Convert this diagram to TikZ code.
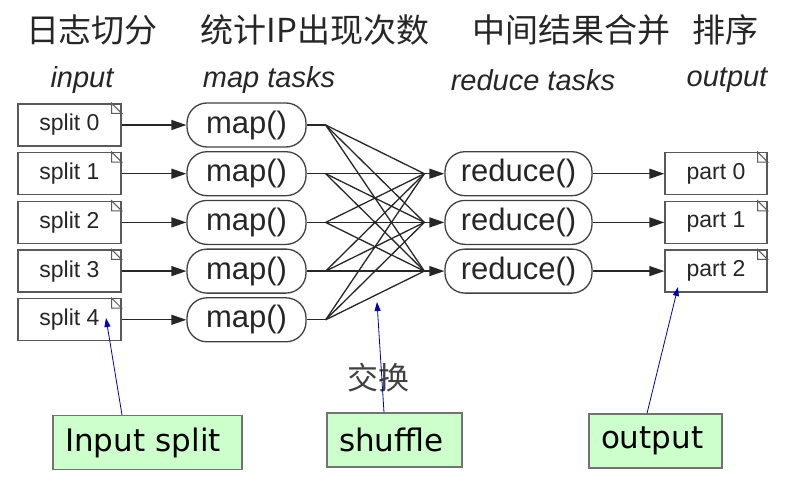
\documentclass[tikz,border=0pt]{standalone}
\usepackage{fontspec}
\setmainfont{Liberation Sans}
\newfontfamily\cjk{Noto Sans CJK SC}
\newfontfamily\verd{DejaVu Sans}
\usetikzlibrary{arrows.meta}

\tikzset{
  filebox/.style={draw=black!65, line width=1.3pt, minimum width=103pt, minimum height=42pt, inner sep=0pt, text=black!85, font=\fontsize{23}{23}\selectfont},
  taskbox/.style={draw=black!75, line width=1.3pt, rounded corners=20pt, minimum height=44pt, inner sep=0pt, text=black!85, font=\fontsize{31}{31}\selectfont},
  notebox/.style={draw=black!55, line width=1.2pt, fill=green!20, minimum height=54pt, inner xsep=12pt, align=left, font=\verd\fontsize{31}{31}\selectfont},
  flow/.style={draw=black!85, line width=1.3pt},
  flowarrow/.style={flow, -{Triangle[length=15pt,width=10pt]}},
  pointer/.style={draw=blue!70!black, line width=0.8pt, -{Triangle[length=9pt,width=6pt]}},
  heading/.style={text=black!85, font=\cjk\fontsize{33}{33}\selectfont},
  column/.style={text=black!85, font=\itshape\fontsize{29}{29}\selectfont},
}

%% folded corner of a file box
\newcommand{\dogear}[1]{%
  \draw[draw=black!65, line width=1pt] ([xshift=-10pt]#1.north east) -- ++(0,-10pt) -- ([yshift=-10pt]#1.north east) -- cycle;}

\begin{document}
\begin{tikzpicture}[x=1pt,y=-1pt]
\useasboundingbox (0,0) rectangle (796,482);

%% headings
\node[heading] (h0) at (92,30) {日志切分};
\node[heading] (h1) at (315,30) {统计IP出现次数};
\node[heading] (h2) at (571,30) {中间结果合并};
\node[heading] (h3) at (725,30) {排序};

%% column titles
\node[column] (c0) at (82,80) {input};
\node[column] (c1) at (269,80) {map tasks};
\node[column] (c2) at (533,80) {reduce tasks};
\node[column] (c3) at (727,80) {output};

%% input splits
\node[filebox] (split0) at (69.5,125) {split 0};
\node[filebox] (split1) at (69.5,173.7) {split 1};
\node[filebox] (split2) at (69.5,222.4) {split 2};
\node[filebox] (split3) at (69.5,271.1) {split 3};
\node[filebox] (split4) at (69.5,319.8) {split 4};

%% map tasks
\node[taskbox, minimum width=119pt] (map0) at (246.5,125) {map()};
\node[taskbox, minimum width=119pt] (map1) at (246.5,173.7) {map()};
\node[taskbox, minimum width=119pt] (map2) at (246.5,222.4) {map()};
\node[taskbox, minimum width=119pt] (map3) at (246.5,271.1) {map()};
\node[taskbox, minimum width=119pt] (map4) at (246.5,319.8) {map()};

%% reduce tasks
\node[taskbox, minimum width=147pt] (red0) at (518.5,173.7) {reduce()};
\node[taskbox, minimum width=147pt] (red1) at (518.5,222.4) {reduce()};
\node[taskbox, minimum width=147pt] (red2) at (518.5,271.1) {reduce()};

%% output parts
\node[filebox, minimum width=102pt] (part0) at (716,173.7) {part 0};
\node[filebox, minimum width=102pt] (part1) at (716,222.4) {part 1};
\node[filebox, minimum width=102pt] (part2) at (716,271.1) {part 2};

\foreach \n in {split0,split1,split2,split3,split4,part0,part1,part2}
  \dogear{\n};

%% split -> map
\foreach \i in {0,...,4}
  \draw[flowarrow] (split\i) -- (map\i);

%% shuffle
\foreach \i in {0,...,4}{
  \path (map\i.east) ++(19pt,0) coordinate (mo\i);
  \draw[flow] (map\i) -- (mo\i);
}
\foreach \j in {0,1,2}{
  \path (red\j.west) ++(-20pt,0) coordinate (ri\j);
  \draw[flowarrow] (ri\j) -- (red\j);
}
\foreach \i in {0,...,4}
  \foreach \j in {0,1,2}
    \draw[flow] (mo\i) -- (ri\j);

%% reduce -> part
\foreach \j in {0,1,2}
  \draw[flowarrow] (red\j) -- (part\j);

\node[text=black!75, font=\cjk\fontsize{31}{31}\selectfont] (swap) at (378,378) {交换};

%% notes
\node[notebox, text width=165pt] (insplit) at (147.5,442.5) {Input split};
\node[notebox, text width=111pt] (shuffle) at (394.5,440) {shuffle};
\node[notebox, text width=109pt] (outnote) at (655.5,441) {output};

\coordinate (tipin) at (106,318);
\coordinate (tipsh) at (377,302);
\coordinate (tipout) at (678,287);

\draw[pointer] ([xshift=-25.5pt]insplit.north) -- (tipin);
\draw[pointer] ([xshift=-10.5pt]shuffle.north) -- (tipsh);
\draw[pointer] ([xshift=-8.5pt]outnote.north) -- (tipout);
\end{tikzpicture}
\end{document}
